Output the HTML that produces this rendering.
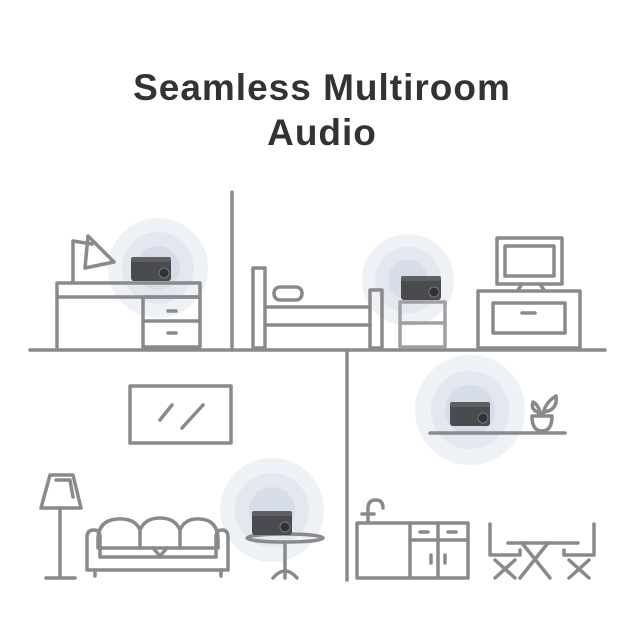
<!DOCTYPE html>
<html><head><meta charset="utf-8"><style>
html,body{margin:0;padding:0;background:#fff;}
svg{display:block;}
</style></head><body>
<svg width="625" height="625" viewBox="0 0 625 625" xmlns="http://www.w3.org/2000/svg">
<defs>
<g id="spk">
<rect x="-20" y="-12" width="40" height="24" rx="3" fill="#4a4b4e"/>
<rect x="-20" y="-12" width="40" height="5" rx="2" fill="#5e5f63"/>
<circle cx="13" cy="4" r="5" fill="#303134" stroke="#777" stroke-width="1"/>
</g>
</defs>
<text x="322" y="100" text-anchor="middle" font-family="Liberation Sans, sans-serif" font-weight="bold" font-size="37" letter-spacing="1" fill="#333">Seamless Multiroom</text>
<text x="322" y="145" text-anchor="middle" font-family="Liberation Sans, sans-serif" font-weight="bold" font-size="37" letter-spacing="1" fill="#333">Audio</text>

<g>
<circle cx="158" cy="268" r="50" fill="#eef1f6"/><circle cx="158" cy="268" r="36" fill="#e2e7f0"/><circle cx="158" cy="268" r="22" fill="#d6dde9"/>
<circle cx="408" cy="280" r="46" fill="#eef1f6"/><circle cx="408" cy="280" r="33" fill="#e2e7f0"/><circle cx="408" cy="280" r="20" fill="#d6dde9"/>
<circle cx="470" cy="410" r="55" fill="#eef1f6"/><circle cx="470" cy="410" r="39" fill="#e2e7f0"/><circle cx="470" cy="410" r="25" fill="#d6dde9"/>
<circle cx="272" cy="510" r="52" fill="#eef1f6"/><circle cx="272" cy="510" r="37" fill="#e2e7f0"/><circle cx="272" cy="510" r="23" fill="#d6dde9"/>
</g>

<g fill="none" stroke="#8a8a8a" stroke-width="3.5" stroke-linejoin="round" stroke-linecap="round">
<line x1="232" y1="192" x2="232" y2="350"/>
<line x1="30" y1="350" x2="605" y2="350"/>
<line x1="347" y1="350" x2="347" y2="580"/>

<rect x="57" y="283" width="143" height="14"/>
<line x1="57" y1="297" x2="57" y2="347"/>
<rect x="143" y="297" width="57" height="50"/>
<line x1="143" y1="321" x2="200" y2="321"/>
<line x1="168" y1="311" x2="176" y2="311"/><line x1="168" y1="333" x2="176" y2="333"/>
<polyline points="73,282 73,241 92,244"/>
<path d="M88,236 L85,268 L114,262 Z"/>
<rect x="253" y="268" width="12" height="80"/>
<line x1="265" y1="307" x2="370" y2="307"/><line x1="265" y1="325" x2="370" y2="325"/>
<rect x="370" y="290" width="12" height="58"/>
<rect x="274" y="287" width="28" height="13" rx="6"/>
<g stroke="#a0a0a4"><rect x="400" y="302" width="45" height="45" /><line x1="400" y1="323" x2="445" y2="323"/></g>
<rect x="497" y="238" width="65" height="46"/>
<rect x="505" y="246" width="49" height="30"/>
<path d="M518,290 L522,284 M540,284 L544,290"/>
<rect x="478" y="291" width="102" height="57"/>
<rect x="493" y="303" width="72" height="30"/>
<line x1="522" y1="313" x2="535" y2="313"/>

<rect x="130" y="386" width="101" height="57"/>
<line x1="160" y1="420" x2="172" y2="405"/><line x1="182" y1="428" x2="203" y2="405"/>
<path d="M50,475 L73,475 L81,508 L41,508 Z"/>
<polyline points="56,480 70,480 73,497"/>
<line x1="60" y1="508" x2="60" y2="577"/>
<line x1="46" y1="578" x2="75" y2="578"/>
<path d="M98,540 Q98,520 118,519 Q135,518 140,530 Q145,518 160,518 Q175,518 180,530 Q185,518 200,519 Q218,520 218,540"/>
<path d="M140,530 L140,548 M180,530 L180,548"/>
<path d="M98,540 L98,548 L218,548 L218,540"/>
<path d="M87,570 L87,537 Q87,530 94,530 Q100,530 100,537 L100,557 L216,557 L216,537 Q216,530 222,530 Q228,530 228,537 L228,570 Z"/>
<path d="M153,548 L160,556 L167,548"/>
<line x1="95" y1="570" x2="95" y2="576"/><line x1="221" y1="570" x2="221" y2="576"/>
<ellipse cx="285" cy="538" rx="38" ry="4"/>
<line x1="285" y1="542" x2="285" y2="578"/>
<path d="M273,578 Q285,564 297,578"/>

<line x1="430" y1="433" x2="565" y2="433"/>
<path d="M532,416 L552,416 Q552,431 542,431 Q532,431 532,416 Z"/>
<path d="M541,416 Q539,405 533,402 Q530,410 540,413"/><path d="M543,416 Q544,403 556,396 Q558,410 544,412"/>
<rect x="357" y="523" width="111" height="55"/>
<line x1="410" y1="523" x2="410" y2="578"/><line x1="438" y1="523" x2="438" y2="578"/>
<line x1="410" y1="540" x2="468" y2="540"/>
<line x1="420" y1="532" x2="428" y2="532"/><line x1="448" y1="532" x2="456" y2="532"/>
<line x1="431" y1="555" x2="431" y2="563"/><line x1="445" y1="555" x2="445" y2="563"/>
<path d="M368,522 L368,508 Q368,500 376,500 Q383,500 383,508"/>
<line x1="362" y1="514" x2="374" y2="514"/>
<line x1="508" y1="543" x2="578" y2="543"/>
<path d="M522,543 L550,578 M548,543 L520,578"/>
<path d="M490,524 L490,555 L520,555 L520,550 M495,560 L515,578 M515,560 L495,578"/>
<path d="M594,524 L594,555 L564,555 L564,550 M569,560 L589,578 M589,560 L569,578"/>
</g>

<use href="#spk" x="151" y="269"/>
<use href="#spk" x="421" y="288"/>
<use href="#spk" x="470" y="414"/>
<use href="#spk" x="272" y="523"/>
</svg>
</body></html>
